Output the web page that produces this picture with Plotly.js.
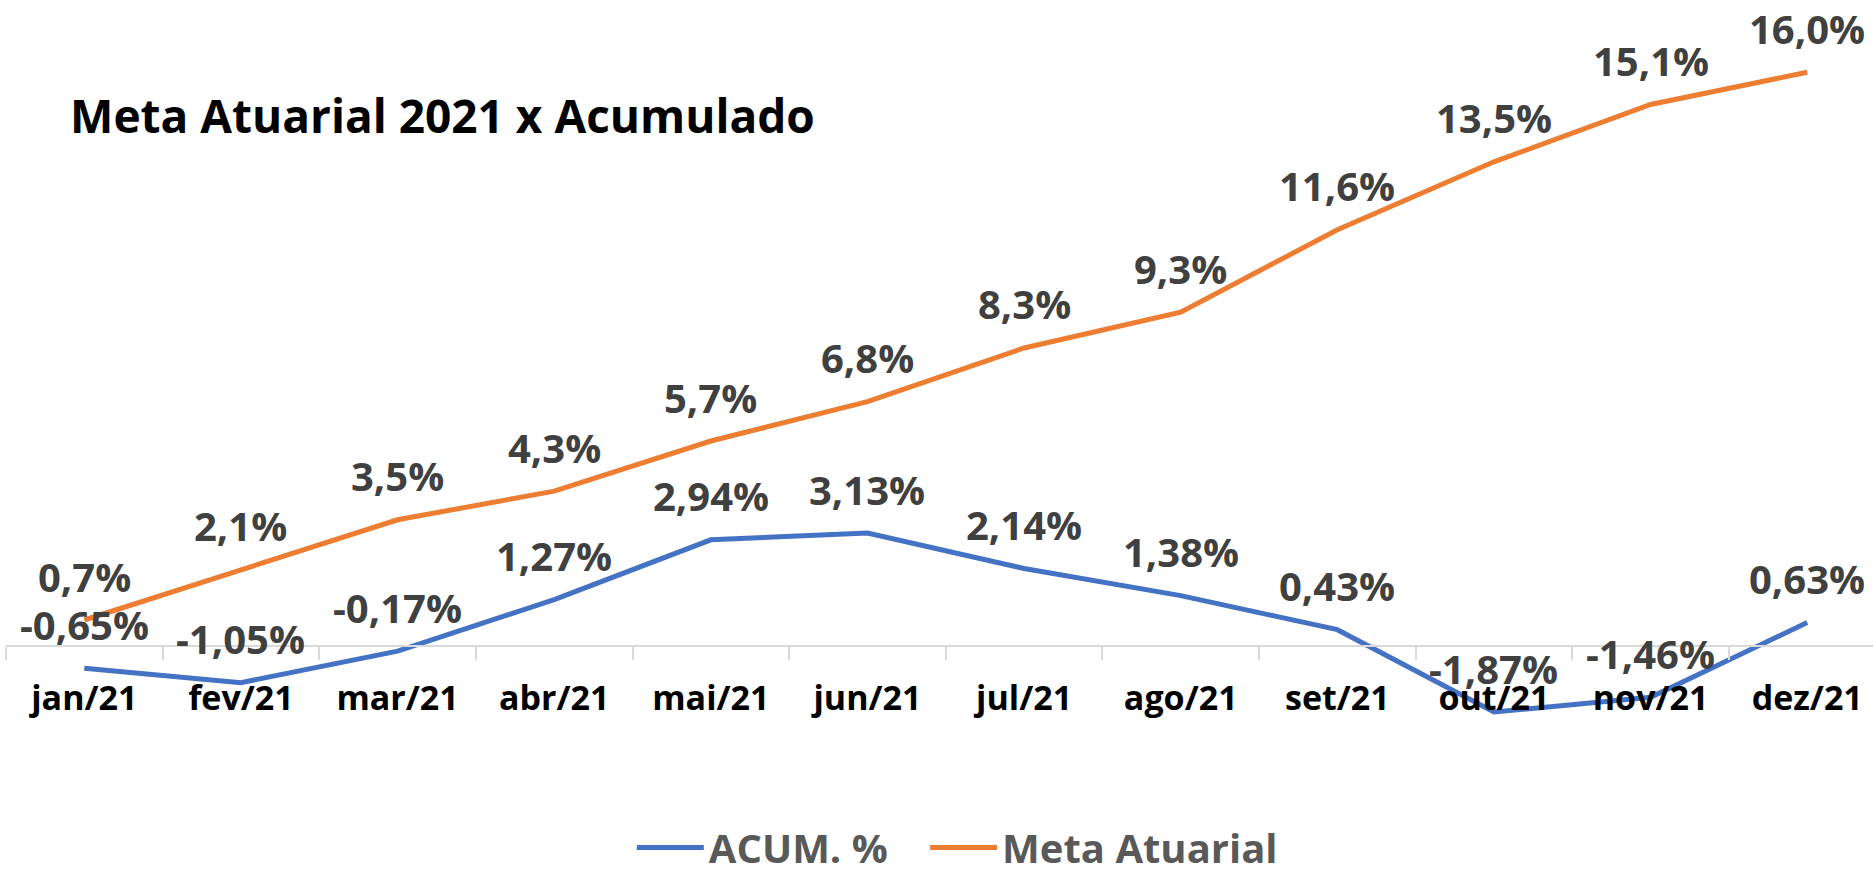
<!DOCTYPE html>
<html><head><meta charset="utf-8">
<script src="https://cdn.plot.ly/plotly-3.0.1.min.js"></script>
<style>html,body{margin:0;padding:0;background:#fff;}#chart{width:1873px;height:872px;}</style>
</head><body><div id="chart"></div>
<script>
const months = ["jan/21","fev/21","mar/21","abr/21","mai/21","jun/21","jul/21","ago/21","set/21","out/21","nov/21","dez/21"];
const acum = [-0.65,-1.05,-0.17,1.27,2.94,3.13,2.14,1.38,0.43,-1.87,-1.46,0.63];
const meta = [0.7,2.1,3.5,4.3,5.7,6.8,8.3,9.3,11.6,13.5,15.1,16.0];
const seriesNames = ["ACUM. %","Meta Atuarial"];
const titleText = "Meta Atuarial 2021 x Acumulado";

const fmt = (v, d) => v.toFixed(d).replace('.', ',') + '%';
const acumLabels = acum.map(v => fmt(v, 2));
const metaLabels = meta.map(v => fmt(v, 1));

const FONT = "'Open Sans', 'Noto Sans', sans-serif";

const traces = [
  {x: months, y: acum, name: seriesNames[0], type: 'scatter', mode: 'lines', legend: 'legend',
   line: {color: '#4472C4', width: 5}, hoverinfo: 'skip'},
  {x: months, y: meta, name: seriesNames[1], type: 'scatter', mode: 'lines', legend: 'legend2',
   line: {color: '#ED7D31', width: 5}, hoverinfo: 'skip'}
];

const labelFont = {family: FONT, size: 40, color: '#404040', weight: 'bold'};
const annotations = [];
months.forEach((m, i) => {
  annotations.push({x: m, y: acum[i], xref: 'x', yref: 'y', text: acumLabels[i], showarrow: false, yshift: 44, font: labelFont});
  annotations.push({x: m, y: meta[i], xref: 'x', yref: 'y', text: metaLabels[i], showarrow: false, yshift: 44, font: labelFont});
});

const legendBase = {orientation: 'h', xanchor: 'left', yanchor: 'middle', xref: 'paper', yref: 'paper', y: 0.017,
  font: {family: FONT, size: 40, color: '#595959', weight: 'bold'}, itemwidth: 67, bgcolor: 'rgba(0,0,0,0)', borderwidth: 0};

const layout = {
  width: 1873, height: 872,
  margin: {l: 6, r: 0, t: 10, b: 10, autoexpand: false},
  paper_bgcolor: '#ffffff', plot_bgcolor: '#ffffff',
  title: {text: titleText, x: 0.0343, xanchor: 'left', xref: 'paper', y: 0.874, yanchor: 'middle', yref: 'paper',
          font: {family: FONT, size: 46, color: '#000000', weight: 'bold'}},
  showlegend: true,
  legend: Object.assign({}, legendBase, {x: 0.3352}),
  legend2: Object.assign({}, legendBase, {x: 0.4923}),
  xaxis: {type: 'category', range: [-0.5, 11.42], anchor: 'free', position: 0.2535,
          showline: true, linecolor: '#d9d9d9', linewidth: 2,
          ticks: 'outside', tickson: 'boundaries', ticklen: 13, tickwidth: 2, tickcolor: '#d9d9d9',
          tickfont: {family: FONT, size: 34, color: '#000000', weight: 'bold'}, ticklabelstandoff: 22,
          showgrid: false, zeroline: false, fixedrange: true},
  yaxis: {range: [-6.06, 17.74], showticklabels: false, showgrid: false, zeroline: false, showline: false, ticks: '', fixedrange: true},
  annotations: annotations
};

Plotly.newPlot('chart', traces, layout, {displayModeBar: false, staticPlot: true});
</script>
</body></html>
